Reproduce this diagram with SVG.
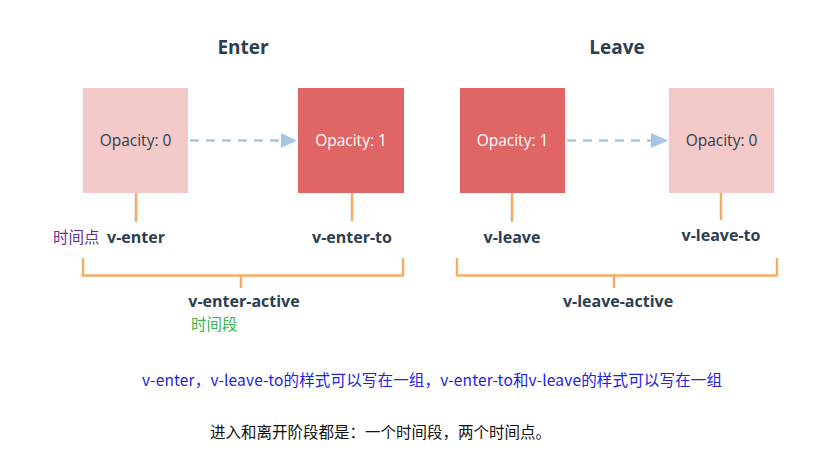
<svg xmlns="http://www.w3.org/2000/svg" width="830" height="463" viewBox="0 0 830 463">
<defs>
<style>
.title{font-family:"Open Sans","Noto Sans",sans-serif;font-weight:bold;font-size:19px;fill:#2c3e50;text-anchor:middle}
.lbl{font-family:"Open Sans","Noto Sans",sans-serif;font-weight:bold;font-size:16px;fill:#2c3e50;text-anchor:middle}
.op{font-family:"Open Sans","Noto Sans",sans-serif;font-size:15.5px;text-anchor:middle}
.light{fill:#f4c9c9}
.dark{fill:#e06565}
.or{stroke:#f5ad66;stroke-width:2.5;fill:none}
.arr{stroke:#a6c6e6;stroke-width:2.5;stroke-dasharray:9 7;fill:none}
.cjk{font-family:"Microsoft YaHei","Noto Sans CJK SC",sans-serif;font-size:15.5px}
</style>
</defs>
<rect width="830" height="463" fill="#ffffff"/>
<text class="title" x="243" y="54">Enter</text>
<text class="title" x="617" y="54">Leave</text>
<g id="connectors">
<path class="arr" d="M190,140.5 H282"/>
<path d="M281,133 L297,140.5 L281,148 Z" fill="#a6c6e6"/>
<path class="arr" d="M567,140.5 H652"/>
<path d="M651,133 L668,140.5 L651,148 Z" fill="#a6c6e6"/>
<path class="or" d="M136,193 V222"/>
<path class="or" d="M352,193 V221"/>
<path class="or" d="M512,193 V222"/>
<path class="or" d="M721,193 V220"/>
<path class="or" d="M83,258 V275.5 H403 V258 M241,275.5 V288"/>
<path class="or" d="M457,258 V275.5 H777 V258 M614,275.5 V288"/>
</g>
<g id="enter-from"><rect class="light" x="83" y="88" width="105" height="105"/><text class="op" x="135.5" y="146" fill="#2c3e50">Opacity: 0</text></g>
<g id="enter-to"><rect class="dark" x="298" y="88" width="106" height="105"/><text class="op" x="351" y="146" fill="#ffffff">Opacity: 1</text></g>
<g id="leave-from"><rect class="dark" x="460" y="88" width="105" height="105"/><text class="op" x="512.5" y="146" fill="#ffffff">Opacity: 1</text></g>
<g id="leave-to"><rect class="light" x="669" y="88" width="105" height="105"/><text class="op" x="721.5" y="146" fill="#2c3e50">Opacity: 0</text></g>
<g id="labels">
<text class="lbl" x="136" y="243">v-enter</text>
<text class="lbl" x="352" y="243">v-enter-to</text>
<text class="lbl" x="512" y="243">v-leave</text>
<text class="lbl" x="721" y="241">v-leave-to</text>
<text class="lbl" x="244" y="307">v-enter-active</text>
<text class="lbl" x="618" y="307">v-leave-active</text>
<text class="cjk" x="53" y="243" fill="#6a2c96">时间点</text>
<text class="cjk" x="191" y="330" fill="#3cb44b">时间段</text>
</g>
<text class="cjk" x="142" y="386" fill="#2222dd" textLength="580" lengthAdjust="spacing">v-enter，v-leave-to的样式可以写在一组，v-enter-to和v-leave的样式可以写在一组</text>
<text class="cjk" x="210" y="438" fill="#111111">进入和离开阶段都是：一个时间段，两个时间点。</text>
</svg>
